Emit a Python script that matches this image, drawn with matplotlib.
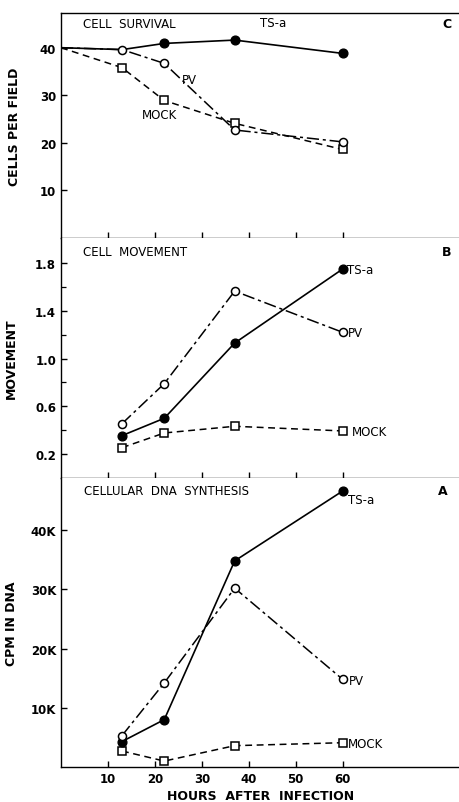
import numpy as np
import matplotlib
matplotlib.use("Agg")
import matplotlib.pyplot as plt
from matplotlib.ticker import FixedLocator, FuncFormatter

# Hours after infection
hours = [13, 22, 37, 60]
hours_surv = [0, 13, 22, 37, 60]

# C - cell survival (cells per field)
tsa_surv = [40, 39.6, 40.9, 41.6, 38.8]
pv_surv = [40, 39.6, 36.7, 22.7, 20.2]
mock_surv = [40, 35.8, 28.9, 24.1, 18.6]

# B - cell movement
tsa_move = [0.355, 0.50, 1.13, 1.75]
pv_move = [0.455, 0.79, 1.565, 1.22]
mock_move = [0.254, 0.377, 0.433, 0.394]

# A - cellular DNA synthesis (cpm in DNA)
tsa_dna = [4300, 8000, 34800, 46600]
pv_dna = [5300, 14200, 30200, 14800]
mock_dna = [2700, 1000, 3600, 4100]

x_ticks = [10, 20, 30, 40, 50, 60]

plt.rcParams['font.family'] = ['DejaVu Sans']

fig = plt.figure(figsize=(4.6, 8.03), dpi=100)
ax_c = fig.add_axes([0.1326, 0.7024, 0.8674, 0.2802])
ax_b = fig.add_axes([0.1326, 0.4035, 0.8674, 0.2989])
ax_a = fig.add_axes([0.1326, 0.0436, 0.8674, 0.3599])

solid = dict(color='black', lw=1.2, ls='-')
dashdot = dict(color='black', lw=1.1, dashes=(8, 2.5, 2, 2.5))
dashed = dict(color='black', lw=1.1, dashes=(4.5, 3))
filled = dict(marker='o', ms=6.3, mfc='black', mec='black')
opencirc = dict(marker='o', ms=5.8, mfc='white', mec='black', mew=1.1)
opensq = dict(marker='s', ms=5.2, mfc='white', mec='black', mew=1.1)
note = dict(fontsize=8.5, va='center')

for ax in (ax_c, ax_b, ax_a):
    ax.set_xlim(0, 85)
    ax.spines['right'].set_visible(False)
    ax.spines['top'].set_visible(False)
    for s in ax.spines.values():
        s.set_linewidth(1.0)
    ax.xaxis.set_major_locator(FixedLocator(x_ticks))
    ax.tick_params(direction='in', length=4.5, width=1.0, labelsize=8.5)
    ax.tick_params(which='minor', direction='in', length=3.5, width=0.9)
ax_c.spines['top'].set_visible(True)
ax_c.tick_params(labelbottom=False)
ax_b.tick_params(labelbottom=False)

# Panel C
ax_c.plot(hours_surv, mock_surv, markevery=[1, 2, 3, 4], **dashed, **opensq)
ax_c.plot(hours_surv, tsa_surv, markevery=[2, 3, 4], **solid, **filled)
ax_c.plot(hours_surv, pv_surv, markevery=[1, 2, 3, 4], **dashdot, **opencirc)
ax_c.set_ylim(0, 47.3)
ax_c.set_yticks([10, 20, 30, 40])
ax_c.set_ylabel('CELLS PER FIELD', fontsize=9, fontweight='bold')
ax_c.yaxis.set_label_coords(-0.1, 0.5)
ax_c.text(0.055, 0.951, 'CELL  SURVIVAL', transform=ax_c.transAxes, **note)
ax_c.text(0.967, 0.951, 'C', transform=ax_c.transAxes, ha='center', fontweight='bold', fontsize=9, va='center')
ax_c.text(42.3, 45.2, 'TS-a', **note)
ax_c.text(25.7, 33.4, 'PV', **note)
ax_c.text(17.2, 26.0, 'MOCK', **note)

# Panel B
ax_b.plot(hours, mock_move, **dashed, **opensq)
ax_b.plot(hours, tsa_move, **solid, **filled)
ax_b.plot(hours, pv_move, **dashdot, **opencirc)
ax_b.set_ylim(0, 2.01)
ax_b.set_yticks([0.2, 0.6, 1.0, 1.4, 1.8])
ax_b.yaxis.set_minor_locator(FixedLocator([0.4, 0.8, 1.2, 1.6]))
ax_b.yaxis.set_major_formatter(FuncFormatter(lambda v, p: f'{v:.1f}'))
ax_b.set_ylabel('MOVEMENT', fontsize=9, fontweight='bold')
ax_b.yaxis.set_label_coords(-0.108, 0.5)
ax_b.text(0.055, 0.942, 'CELL  MOVEMENT', transform=ax_b.transAxes, **note)
ax_b.text(0.967, 0.942, 'B', transform=ax_b.transAxes, ha='center', fontweight='bold', fontsize=9, va='center')
ax_b.text(60.9, 1.75, 'TS-a', **note)
ax_b.text(61.1, 1.215, 'PV', **note)
ax_b.text(61.9, 0.39, 'MOCK', **note)

# Panel A
ax_a.plot(hours, mock_dna, **dashed, **opensq)
ax_a.plot(hours, tsa_dna, **solid, **filled)
ax_a.plot(hours, pv_dna, **dashdot, **opencirc)
ax_a.set_ylim(0, 48800)
ax_a.set_yticks([10000, 20000, 30000, 40000])
ax_a.yaxis.set_major_formatter(FuncFormatter(lambda v, p: f'{int(v / 1000)}K'))
ax_a.set_ylabel('CPM IN DNA', fontsize=9, fontweight='bold')
ax_a.yaxis.set_label_coords(-0.108, 0.5)
ax_a.set_xlabel('HOURS  AFTER  INFECTION', fontsize=9, fontweight='bold', labelpad=3)
ax_a.text(0.058, 0.958, 'CELLULAR  DNA  SYNTHESIS', transform=ax_a.transAxes, **note)
ax_a.text(0.957, 0.958, 'A', transform=ax_a.transAxes, ha='center', fontweight='bold', fontsize=9, va='center')
ax_a.text(61.1, 45100, 'TS-a', **note)
ax_a.text(61.3, 14600, 'PV', **note)
ax_a.text(61.1, 3900, 'MOCK', **note)

# tick labels drawn bold like the lettering in the original
for ax in (ax_c, ax_b, ax_a):
    for lbl in ax.get_yticklabels() + ax.get_xticklabels():
        lbl.set_fontweight('bold')

fig.savefig('out.png', dpi=100)
